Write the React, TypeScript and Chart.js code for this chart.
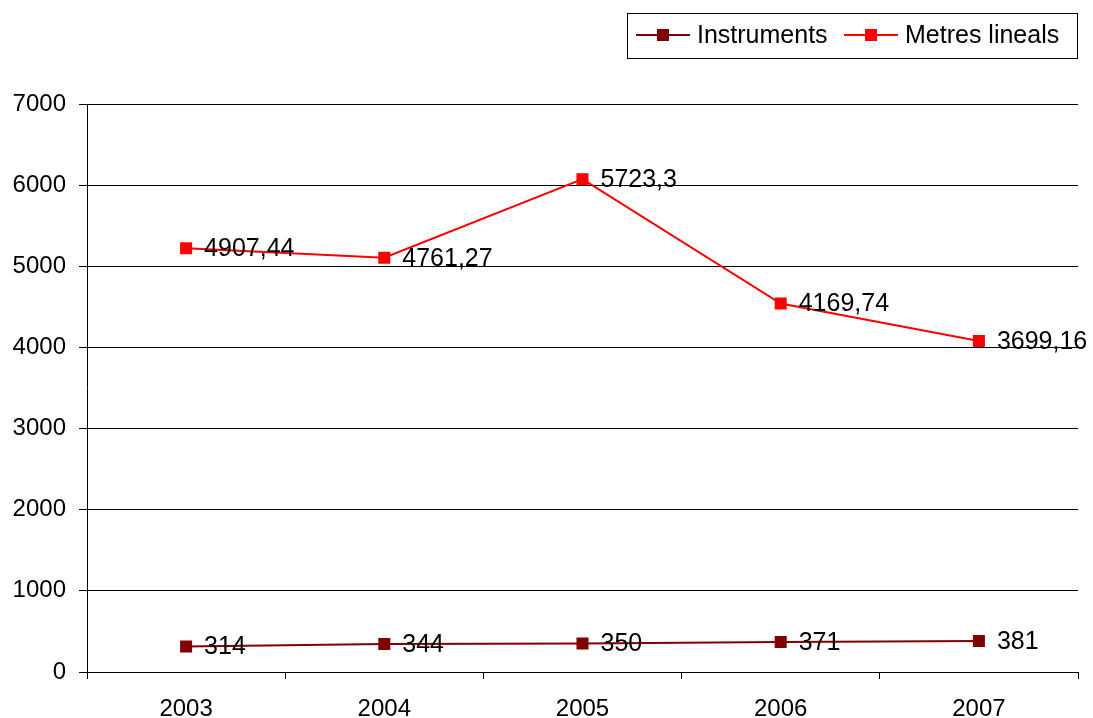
import React, { useEffect, useRef } from "react";
import { Chart, registerables } from "chart.js";

Chart.register(...registerables);

const categories = ["2003", "2004", "2005", "2006", "2007"];
const instruments = [314, 344, 350, 371, 381];
const metresLineals = [4907.44, 4761.27, 5723.3, 4169.74, 3699.16];
const metresLabels = ["4907,44", "4761,27", "5723,3", "4169,74", "3699,16"];
const instrumentsLabels = ["314", "344", "350", "371", "381"];
const yTicks = [0, 1000, 2000, 3000, 4000, 5000, 6000, 7000];

const FONT = "'Liberation Sans', Arial, sans-serif";
const FS_AXIS = 24;
const FS_LABEL = 25;

const labelPlugin = {
  id: "valueLabels",
  afterDatasetsDraw(chart: any) {
    const ctx = chart.ctx;
    const labels = [instrumentsLabels, metresLabels];
    ctx.save();
    ctx.font = `${FS_LABEL}px ${FONT}`;
    ctx.fillStyle = "#000";
    ctx.textAlign = "left";
    ctx.textBaseline = "middle";
    chart.data.datasets.forEach((_: any, di: number) => {
      const meta = chart.getDatasetMeta(di);
      meta.data.forEach((pt: any, i: number) => {
        ctx.fillText(labels[di][i], pt.x + 18, pt.y + 1);
      });
    });
    ctx.restore();
  },
};

const legendPlugin = {
  id: "customLegend",
  afterDraw(chart: any) {
    const ctx = chart.ctx;
    ctx.save();
    ctx.strokeStyle = "#000";
    ctx.lineWidth = 1;
    ctx.strokeRect(627.5, 13.5, 450, 45);
    const items = [
      { x: 636, text: "Instruments", color: "#800000" },
      { x: 844, text: "Metres lineals", color: "#FF0000" },
    ];
    const cy = 35;
    ctx.font = `${FS_LABEL}px ${FONT}`;
    ctx.textBaseline = "middle";
    ctx.textAlign = "left";
    items.forEach((it) => {
      ctx.strokeStyle = it.color;
      ctx.lineWidth = 2;
      ctx.beginPath();
      ctx.moveTo(it.x, cy);
      ctx.lineTo(it.x + 54, cy);
      ctx.stroke();
      ctx.fillStyle = it.color;
      ctx.fillRect(it.x + 21, cy - 6, 12, 12);
      ctx.fillStyle = "#000";
      ctx.fillText(it.text, it.x + 61, cy + 1);
    });
    ctx.restore();
  },
};

export default function App() {
  const ref = useRef<HTMLCanvasElement>(null);
  useEffect(() => {
    if (!ref.current) return;
    const chart = new Chart(ref.current, {
      type: "line",
      data: {
        labels: categories,
        datasets: [
          {
            label: "Instruments",
            data: instruments,
            borderColor: "#800000",
            backgroundColor: "#800000",
            borderWidth: 2,
            pointStyle: "rect",
            pointRadius: 8.5,
            pointBorderWidth: 0,
            fill: false,
            tension: 0,
          },
          {
            label: "Metres lineals",
            data: metresLineals,
            borderColor: "#FF0000",
            backgroundColor: "#FF0000",
            borderWidth: 2,
            pointStyle: "rect",
            pointRadius: 8.5,
            pointBorderWidth: 0,
            fill: false,
            tension: 0,
          },
        ],
      },
      options: {
        responsive: false,
        animation: false,
        layout: { padding: { top: 104, right: 15, left: 0, bottom: 0 } },
        plugins: {
          legend: { display: false },
          tooltip: { enabled: false },
        },
        scales: {
          x: {
            offset: true,
            grid: {
              offset: true,
              drawOnChartArea: false,
              drawTicks: true,
              tickLength: 7,
              color: "#000",
              lineWidth: 1,
            },
            border: { display: true, color: "#000", width: 1 },
            ticks: {
              color: "#000",
              font: { family: FONT, size: FS_AXIS },
              padding: 16,
              maxRotation: 0,
            },
            afterFit(scale: any) {
              scale.height = 46;
            },
          },
          y: {
            stacked: true,
            min: 0,
            max: 7000,
            afterBuildTicks(scale: any) {
              scale.ticks = yTicks.map((v) => ({ value: v }));
            },
            grid: {
              color: "#000",
              lineWidth: 1,
              drawTicks: true,
              tickLength: 8,
            },
            border: { display: true, color: "#000", width: 1 },
            ticks: {
              color: "#000",
              font: { family: FONT, size: FS_AXIS },
              padding: 13,
              callback: (v: any) => String(v),
            },
            afterFit(scale: any) {
              scale.width = 87;
            },
          },
        },
      },
      plugins: [labelPlugin, legendPlugin],
    });
    return () => chart.destroy();
  }, []);
  return (
    <div style={{ position: "fixed", left: 0, top: 0, width: 1093, height: 718, background: "#fff" }}>
      <canvas ref={ref} width={1093} height={718} style={{ width: 1093, height: 718 }} />
    </div>
  );
}
